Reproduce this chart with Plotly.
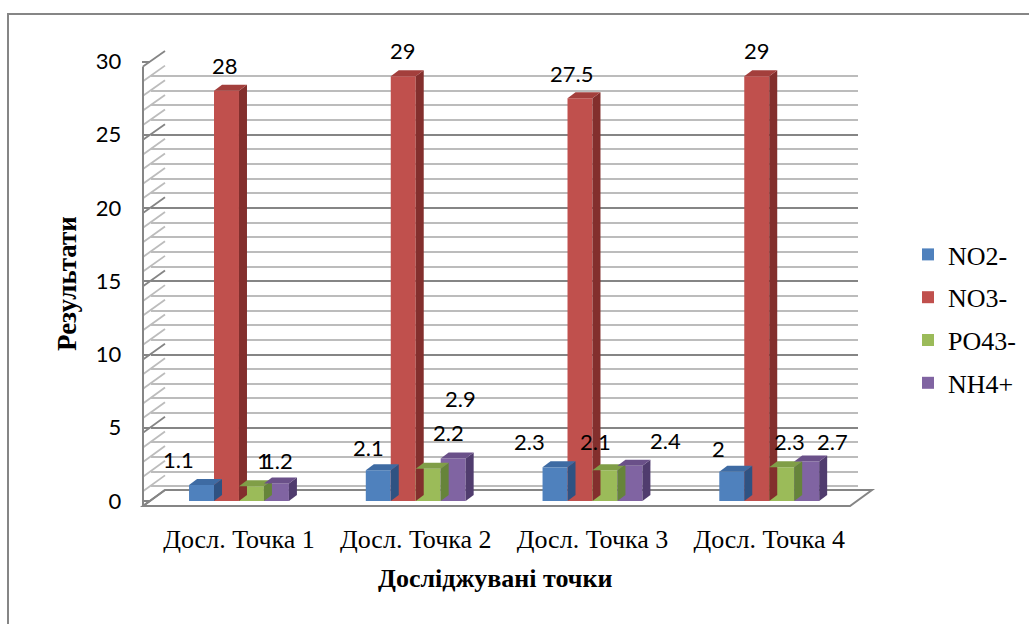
import plotly.graph_objects as go

# ---------------- data ----------------
categories = ["Досл. Точка 1", "Досл. Точка 2", "Досл. Точка 3", "Досл. Точка 4"]
series_names = ["NO2-", "NO3-", "PO43-", "NH4+"]
no2 = [1.1, 2.1, 2.3, 2]
no3 = [28, 29, 27.5, 29]
po4 = [1, 2.2, 2.1, 2.3]
nh4 = [1.2, 2.9, 2.4, 2.7]
y_ticks = [0, 5, 10, 15, 20, 25, 30]

# ---------------- style ----------------
W, H = 1029, 624
front_col = ["#4F81BD", "#C0504D", "#9BBB59", "#8064A2"]
top_col = ["#3E6BA3", "#A33F3C", "#809E47", "#6A5089"]
side_col = ["#2F5282", "#832F2D", "#66843A", "#503C6E"]

# label offsets (pixels, relative to front-top centre of each bar) — Excel's 3D label placement
lab_dx = [[-23, -10, -26, -13], [-1, 0, -8, 0], [12, 20, -9, 8], [1, 7, 36, 26]]
lab_dy = [[25, 23, 26, 23], [25, 26, 25, 26], [26, 36, 29, 26], [23, 60, 25, 20]]

SERIF = "Liberation Serif, Times New Roman, serif"
SANS = "Lato, Liberation Sans, sans-serif"


def px_x(p):
    return p / W


def px_y(p):
    return 1 - p / H


# plane geometry (pixels)
front = dict(x0=143, x1=850, y0=506, y1=66.5)   # axis plane
back = dict(x0=165, x1=872, y0=490, y1=51)      # back wall
bars = dict(x0=150.6, x1=857.6, y0=501, y1=61.5)  # bar plane

bargap = 0.435
nser = 4
w = (1 - bargap) / nser
depth_px = 8
unit_px = (bars["y0"] - bars["y1"]) / 30.0
depth_dy = 6 / unit_px
bar_px = w * (bars["x1"] - bars["x0"]) / 4.0

MAJOR = "#858585"
MINOR = "#bcbcbc"

fig = go.Figure()

all_vals = [no2, no3, po4, nh4]
for j, (name, vals) in enumerate(zip(series_names, all_vals)):
    fig.add_trace(go.Bar(
        x=categories, y=vals, name=name,
        marker=dict(color=front_col[j], line=dict(width=0)),
        xaxis="x", yaxis="y", legendgroup=name,
        hoverinfo="x+y+name",
    ))

# dummy traces so helper axes render
fig.add_trace(go.Scatter(x=[None], y=[None], xaxis="x2", yaxis="y2", showlegend=False, hoverinfo="skip"))
fig.add_trace(go.Scatter(x=[None], y=[None], xaxis="x3", yaxis="y3", showlegend=False, hoverinfo="skip"))

shapes = []
# outer border
shapes.append(dict(type="rect", xref="paper", yref="paper",
                   x0=px_x(8), x1=px_x(1040), y0=px_y(14), y1=px_y(640),
                   line=dict(color="#868686", width=2), fillcolor="rgba(0,0,0,0)", layer="below"))

# side wall diagonals
for k in range(0, 31):
    yf = front["y0"] + (front["y1"] - front["y0"]) * k / 30
    yb = back["y0"] + (back["y1"] - back["y0"]) * k / 30
    col = MAJOR if k % 5 == 0 else MINOR
    shapes.append(dict(type="line", xref="paper", yref="paper",
                       x0=px_x(front["x0"]), y0=px_y(yf), x1=px_x(back["x0"]), y1=px_y(yb),
                       line=dict(color=col, width=1.8), layer="below"))

# floor
floor_path = "M{},{} L{},{} L{},{} L{},{} Z".format(
    px_x(front["x0"]), px_y(front["y0"]), px_x(front["x1"]), px_y(front["y0"]),
    px_x(back["x1"]), px_y(back["y0"]), px_x(back["x0"]), px_y(back["y0"]))
shapes.append(dict(type="path", xref="paper", yref="paper", path=floor_path,
                   line=dict(color=MAJOR, width=2), fillcolor="rgba(0,0,0,0)", layer="below"))
# left front axis line
shapes.append(dict(type="line", xref="paper", yref="paper",
                   x0=px_x(front["x0"]), x1=px_x(front["x0"]), y0=px_y(front["y0"]), y1=px_y(front["y1"]),
                   line=dict(color=MAJOR, width=2), layer="below"))

# 3D faces of bars
for j, vals in enumerate(all_vals):
    for i, v in enumerate(vals):
        right = i + (j - 1.5) * w + w / 2
        side = "M0,0 L{d},{dy} L{d},{vt} L0,{v} Z".format(d=depth_px, dy=depth_dy, vt=v + depth_dy, v=v)
        shapes.append(dict(type="path", xref="x", yref="y", xsizemode="pixel", xanchor=right,
                           path=side, fillcolor=side_col[j], line=dict(width=0), layer="above"))
        top = "M{l},{v} L0,{v} L{d},{vt} L{ld},{vt} Z".format(
            l=-bar_px, v=v, d=depth_px, vt=v + depth_dy, ld=-bar_px + depth_px)
        shapes.append(dict(type="path", xref="x", yref="y", xsizemode="pixel", xanchor=right,
                           path=top, fillcolor=top_col[j], line=dict(width=0), layer="above"))

annotations = []
for j, vals in enumerate(all_vals):
    for i, v in enumerate(vals):
        centre = i + (j - 1.5) * w
        annotations.append(dict(x=centre, y=v, xref="x", yref="y", text=str(v),
                                showarrow=False, xanchor="center", yanchor="middle",
                                xshift=lab_dx[j][i], yshift=lab_dy[j][i],
                                font=dict(family=SANS, size=22, color="#000")))

annotations.append(dict(x=px_x(67), y=px_y(284), xref="paper", yref="paper", text="<b>Результати</b>",
                        textangle=-90, showarrow=False, xanchor="center", yanchor="middle",
                        font=dict(family=SERIF, size=27, color="#000")))
annotations.append(dict(x=px_x(495), y=px_y(578), xref="paper", yref="paper", text="<b>Досліджувані точки</b>",
                        showarrow=False, xanchor="center", yanchor="middle",
                        font=dict(family=SERIF, size=26, color="#000")))

fig.update_layout(
    width=W, height=H,
    margin=dict(l=0, r=0, t=0, b=0, autoexpand=False),
    paper_bgcolor="white", plot_bgcolor="rgba(0,0,0,0)",
    barmode="group", bargap=bargap, bargroupgap=0,
    showlegend=True,
    legend=dict(x=px_x(908), y=px_y(231), xanchor="left", yanchor="top",
                font=dict(family=SERIF, size=26, color="#000"),
                tracegroupgap=6, bgcolor="rgba(0,0,0,0)", traceorder="grouped"),
    xaxis=dict(domain=[px_x(bars["x0"]), px_x(bars["x1"])], range=[-0.5, 3.5], type="category",
               showgrid=False, showline=False, zeroline=False, ticks="", automargin=False,
               tickfont=dict(family=SERIF, size=26, color="#000"),
               ticklabelstandoff=20, anchor="y"),
    yaxis=dict(domain=[px_y(bars["y0"]), px_y(bars["y1"])], range=[0, 30], automargin=False,
               showgrid=False, showline=False, zeroline=False, showticklabels=False, ticks="", anchor="x"),
    xaxis2=dict(domain=[px_x(back["x0"]), px_x(back["x1"])], range=[0, 1], overlaying="x",
                visible=False, anchor="y2", automargin=False),
    yaxis2=dict(domain=[px_y(back["y0"]), px_y(back["y1"])], range=[0, 30], overlaying="y",
                tickvals=y_ticks, showticklabels=False, ticks="", showline=False, zeroline=False,
                showgrid=True, gridcolor=MAJOR, gridwidth=2, automargin=False,
                minor=dict(dtick=1, showgrid=True, gridcolor=MINOR, gridwidth=2, ticks=""),
                anchor="x2"),
    xaxis3=dict(domain=[px_x(front["x0"]), px_x(front["x1"])], range=[0, 1], overlaying="x",
                visible=False, anchor="y3", automargin=False),
    yaxis3=dict(domain=[px_y(front["y0"]), px_y(front["y1"])], range=[0, 30], overlaying="y",
                tickvals=y_ticks, ticktext=[str(t) for t in y_ticks], automargin=False,
                ticks="outside", ticklen=8, tickcolor=MAJOR, tickwidth=2,
                showline=False, showgrid=False, zeroline=False, ticklabelstandoff=16,
                tickfont=dict(family=SANS, size=22, color="#000"),
                anchor="x3"),
    shapes=shapes,
    annotations=annotations,
)

fig.write_html("out.html")
